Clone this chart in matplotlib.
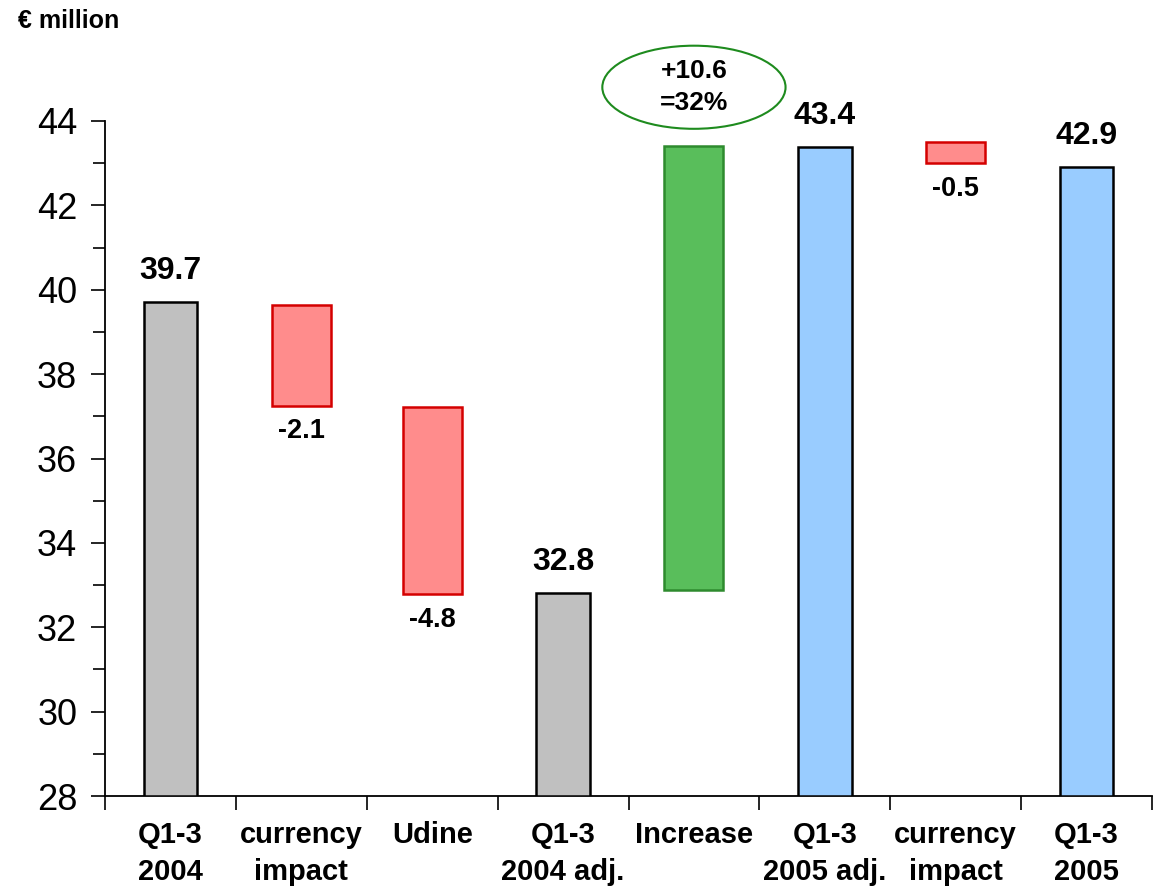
import matplotlib
matplotlib.use("Agg")
import matplotlib.pyplot as plt
from matplotlib.patches import Ellipse
from matplotlib.ticker import MultipleLocator, FixedLocator

plt.rcParams['font.family'] = ['Liberation Sans', 'DejaVu Sans']

categories = ["Q1-3\n2004", "currency\nimpact", "Udine", "Q1-3\n2004 adj.",
              "Increase", "Q1-3\n2005 adj.", "currency\nimpact", "Q1-3\n2005"]
bar_bottom = [28.0, 37.25, 32.78, 28.0, 32.88, 28.0, 43.0, 28.0]
bar_top = [39.72, 39.64, 37.22, 32.81, 43.41, 43.38, 43.5, 42.91]
kinds = ["total", "neg", "neg", "total", "pos", "total2", "neg", "total2"]
value_labels = ["39.7", "-2.1", "-4.8", "32.8", "", "43.4", "-0.5", "42.9"]
increase_note = "+10.6\n=32%"
y_ticks = [28, 30, 32, 34, 36, 38, 40, 42, 44]

fills = {"total": "#C0C0C0", "neg": "#FF8C8C", "pos": "#59BE5B", "total2": "#99CCFF"}
edges = {"total": "black", "neg": "#D40000", "pos": "#2E8B2E", "total2": "black"}
widths = {"total": 0.41, "neg": 0.45, "pos": 0.45, "total2": 0.41}

fig = plt.figure(figsize=(11.53, 8.93), dpi=100)
ax = fig.add_axes([105/1153, 1-796/893, 1047/1153, (796-121)/893])

x = list(range(len(categories)))
for i, k in enumerate(kinds):
    ax.bar(x[i], bar_top[i] - bar_bottom[i], bottom=bar_bottom[i], width=widths[k],
           color=fills[k], edgecolor=edges[k], linewidth=1.8, zorder=3)

for i, lab in enumerate(value_labels):
    if not lab:
        continue
    if kinds[i] == "neg":
        ax.text(x[i], bar_bottom[i] - 0.3, lab, ha='center', va='top',
                fontsize=19.5, fontweight='bold')
    else:
        ax.text(x[i], bar_top[i] + 0.38, lab, ha='center', va='bottom',
                fontsize=23, fontweight='bold')

# ellipse annotation for the increase
ell = Ellipse((4.0, 44.8), width=1.4, height=1.97, facecolor='white',
              edgecolor='#1E8B1E', linewidth=1.5, clip_on=False, zorder=4)
ax.add_patch(ell)
ax.text(4.0, 44.8, increase_note, ha='center', va='center', fontsize=19,
        fontweight='bold', linespacing=1.4, zorder=5, clip_on=False)

ax.set_xlim(-0.5, len(categories) - 0.5)
ax.set_ylim(28, 44)
ax.spines['top'].set_visible(False)
ax.spines['right'].set_visible(False)
for s in ('left', 'bottom'):
    ax.spines[s].set_linewidth(1.3)

ax.set_yticks(y_ticks)
ax.set_yticklabels([str(t) for t in y_ticks], fontsize=26)
ax.yaxis.set_minor_locator(MultipleLocator(1))
ax.tick_params(axis='y', which='major', length=10, width=1.2, pad=10)
ax.tick_params(axis='y', which='minor', length=9, width=1.2)

ax.set_xticks(x)
ax.set_xticklabels(categories, fontsize=21, fontweight='bold', linespacing=1.4)
ax.xaxis.set_minor_locator(FixedLocator([i - 0.5 for i in range(len(categories) + 1)]))
ax.tick_params(axis='x', which='major', length=0, pad=18)
ax.tick_params(axis='x', which='minor', length=10, width=1.2)

fig.text(18/1153, 1-21/893, "€ million", fontsize=18, fontweight='bold',
         ha='left', va='center')

fig.savefig("out.png", dpi=100)
